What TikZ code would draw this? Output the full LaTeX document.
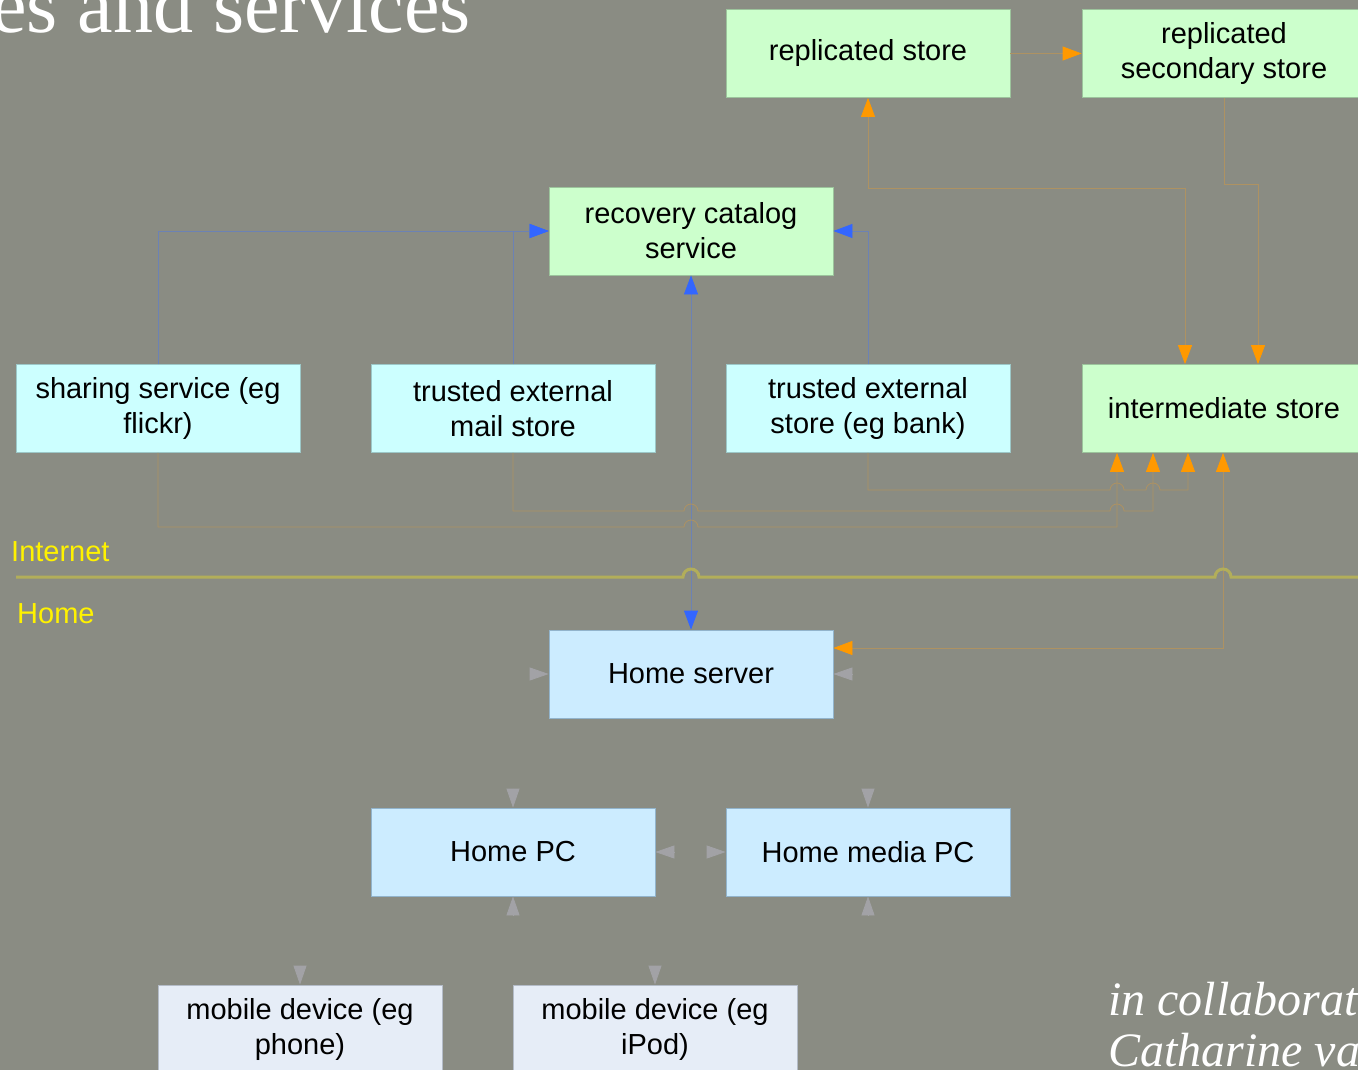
\documentclass[tikz,border=0pt]{standalone}
\usepackage{fontspec}
\setmainfont{Liberation Sans}
\newfontfamily\slideserif{Liberation Serif}
\usepackage{xcolor}
\definecolor{slide-bg}{HTML}{8A8C83}
\definecolor{store-green}{HTML}{CCFFCC}
\definecolor{store-green-edge}{HTML}{9CC49C}
\definecolor{net-cyan}{HTML}{CCFFFF}
\definecolor{net-cyan-edge}{HTML}{9CC8C8}
\definecolor{home-blue}{HTML}{CCECFF}
\definecolor{home-blue-edge}{HTML}{92B4CC}
\definecolor{mobile-grey}{HTML}{E6EDF7}
\definecolor{mobile-grey-edge}{HTML}{B4BCC8}
\definecolor{link-blue}{HTML}{3366FF}
\definecolor{link-blue-faint}{HTML}{6C82B4}
\definecolor{link-orange}{HTML}{FF9900}
\definecolor{link-orange-faint}{HTML}{AE9262}
\definecolor{link-grey}{HTML}{A2A2A6}
\definecolor{border-yellow}{HTML}{B2AE5A}
\usetikzlibrary{arrows.meta}

\tikzset{
    box/.style={rectangle, minimum width=284pt, minimum height=88pt, inner sep=0pt,
        align=center, text=black, font=\fontsize{29}{35}\selectfont, line width=0.8pt},
    storebox/.style={box, fill=store-green, draw=store-green-edge},
    netbox/.style={box, fill=net-cyan, draw=net-cyan-edge},
    homebox/.style={box, fill=home-blue, draw=home-blue-edge},
    mobilebox/.style={box, fill=mobile-grey, draw=mobile-grey-edge},
    bluetip/.tip={Triangle[length=19pt, width=14pt, color=link-blue]},
    orangetip/.tip={Triangle[length=19pt, width=14pt, color=link-orange]},
    greyhead/.tip={Triangle[length=19pt, width=13pt, color=link-grey]},
    blueline/.style={draw=link-blue-faint, line width=0.8pt, -bluetip},
    orangeline/.style={draw=link-orange-faint, line width=0.8pt, -orangetip},
    greytip/.style={draw=link-grey, line width=0.8pt, -greyhead},
    netlabel/.style={text=yellow, font=\fontsize{29}{35}\selectfont, anchor=west, inner sep=0pt}
}

\begin{document}
\begin{tikzpicture}[x=1pt, y=-1pt]

    % Background
    \useasboundingbox (0, 0) rectangle (1358, 1070);
    \clip (0, 0) rectangle (1358, 1070);
    \fill[slide-bg] (0, 0) rectangle (1358, 1070);

    % Title and credit
    \node[anchor=base west, inner sep=0pt, text=white, font=\slideserif\fontsize{80}{84}\selectfont] (title) at (-9, 33) {es and services};
    \node[anchor=base west, inner sep=0pt, text=white, font=\slideserif\itshape\fontsize{48}{50}\selectfont] (credit1) at (1108, 1015) {in collaborat};
    \node[anchor=base west, inner sep=0pt, text=white, font=\slideserif\itshape\fontsize{48}{50}\selectfont] (credit2) at (1108, 1066) {Catharine va};

    % Stores
    \node[storebox] (rep) at (868, 53.5) {replicated store};
    \node[storebox] (sec) at (1224, 53.5) {replicated\\secondary store};
    \node[storebox] (cat) at (691, 231) {recovery catalog\\service};
    \node[storebox] (inter) at (1224, 408.5) {intermediate store};

    % Internet services
    \node[netbox] (shar) at (158, 408.5) {sharing service (eg\\flickr)};
    \node[netbox] (mail) at (513, 408.5) {trusted external\\mail store};
    \node[netbox] (bank) at (868, 408.5) {trusted external\\store (eg bank)};

    % Home devices
    \node[homebox] (hsrv) at (691, 674) {Home server};
    \node[homebox] (hpc) at (513, 852) {Home PC};
    \node[homebox] (hmpc) at (868, 852) {Home media PC};
    \node[mobilebox] (phone) at (300, 1029) {mobile device (eg\\phone)};
    \node[mobilebox] (ipod) at (655, 1029) {mobile device (eg\\iPod)};

    % Catalog links
    \draw[blueline] (shar.north) |- (cat.west);
    \draw[blueline] (mail.north) |- (cat.west);
    \draw[blueline] (bank.north) |- (cat.east);
    \draw[blueline, bluetip-bluetip] (cat.south) -- (hsrv.north);

    % Replication links
    \coordinate (repbend) at (1185, 188);
    \coordinate (secbend) at (1258, 184);
    \draw[orangeline] (rep.east) -- (sec.west);
    \draw[orangeline, orangetip-orangetip] (rep.south) |- (repbend) -- (repbend |- inter.north);
    \draw[orangeline] (sec.south) |- (secbend) -- (secbend |- inter.north);

    % Links into the intermediate store
    \draw[orangeline] (shar.south) -- (158, 527) -- (684, 527)
        arc[start angle=180, end angle=0, radius=7pt] -- (1117, 527)
        -- ([xshift=-107pt]inter.south);
    \draw[orangeline] (mail.south) -- (513, 511) -- (684, 511)
        arc[start angle=180, end angle=0, radius=7pt] -- (1110, 511)
        arc[start angle=180, end angle=0, radius=7pt] -- (1153, 511)
        -- ([xshift=-71pt]inter.south);
    \draw[orangeline] (bank.south) -- (868, 490) -- (1110, 490)
        arc[start angle=180, end angle=0, radius=7pt] -- (1146, 490)
        arc[start angle=180, end angle=0, radius=7pt] -- (1188, 490)
        -- ([xshift=-36pt]inter.south);
    \draw[orangeline, orangetip-orangetip] ([yshift=26pt]hsrv.east) -| ([xshift=-1pt]inter.south);

    % Internet / Home border
    \draw[border-yellow, line width=3pt] (16, 577) -- (683, 577)
        arc[start angle=180, end angle=0, radius=8pt] -- (1215, 577)
        arc[start angle=180, end angle=0, radius=8pt] -- (1370, 577);
    \node[netlabel] (inet) at (11, 552) {Internet};
    \node[netlabel] (home) at (17, 614) {Home};

    % Home network
    \draw[greytip] ([xshift=-19pt]hsrv.west) -- (hsrv.west);
    \draw[greytip] ([xshift=19pt]hsrv.east) -- (hsrv.east);
    \draw[greytip] ([yshift=19pt]hpc.north) -- (hpc.north);
    \draw[greytip] ([yshift=19pt]hmpc.north) -- (hmpc.north);
    \draw[greytip] ([xshift=19pt]hpc.east) -- (hpc.east);
    \draw[greytip] ([xshift=-19pt]hmpc.west) -- (hmpc.west);
    \draw[greytip] ([yshift=-19pt]hpc.south) -- (hpc.south);
    \draw[greytip] ([yshift=-19pt]hmpc.south) -- (hmpc.south);
    \draw[greytip] ([yshift=19pt]phone.north) -- (phone.north);
    \draw[greytip] ([yshift=19pt]ipod.north) -- (ipod.north);

\end{tikzpicture}
\end{document}
